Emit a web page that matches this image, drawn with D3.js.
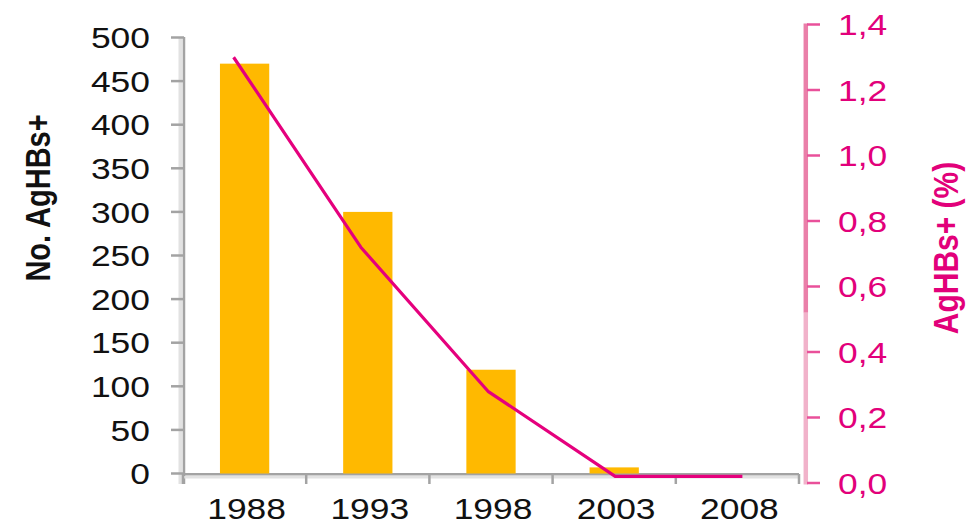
<!DOCTYPE html>
<html><head><meta charset="utf-8">
<script src="https://cdn.jsdelivr.net/npm/d3@7"></script>
<style>html,body{margin:0;padding:0;background:#fff;overflow:hidden}svg{display:block}</style>
</head><body><svg id="c" width="977" height="524"></svg>
<script>
// ---- data ----
const years = ["1988", "1993", "1998", "2003", "2008"];
const cases = [470, 300, 119, 7, 0];              // No. AgHBs+ (bars, left axis)
const prevalence = [1.30, 0.72, 0.28, 0.02, 0.02]; // AgHBs+ (%) (line, right axis)
const leftTicks = [0, 50, 100, 150, 200, 250, 300, 350, 400, 450, 500];
const rightTicks = [0, 0.2, 0.4, 0.6, 0.8, 1.0, 1.2, 1.4];
const leftTitle = "No. AgHBs+";
const rightTitle = "AgHBs+ (%)";

// ---- layout (px) ----
const S = 1.18;               // horizontal stretch of the original picture
const fx = px => px / S;
const FONT = "Arial, 'Liberation Sans', sans-serif";
const barColor = "#FFB900", lineColor = "#E5007D", pink = "#E2007A";

const svg = d3.select("#c");
const g = svg.append("g").attr("transform", `scale(${S},1)`);

const xc = d3.scaleBand().domain(years).range([fx(183), fx(799)]);
const xb = d3.scaleBand().domain(years).range([fx(183), fx(799)]).paddingInner(0.6).paddingOuter(0.3);
const xl = d3.scalePoint().domain(years).range([fx(170), fx(806)]).padding(0.5);
const yL = d3.scaleLinear().domain([0, 500]).range([473.5, 37.5]);
const yR = d3.scaleLinear().domain([0, 1.4]).range([483, 24.5]);

function ln(sel, x1, y1, x2, y2, color, w) {
  return sel.append("line").attr("x1", x1).attr("y1", y1).attr("x2", x2).attr("y2", y2)
    .attr("stroke", color).attr("stroke-width", w).attr("vector-effect", "non-scaling-stroke");
}

// ---- left axis ----
const la = g.append("g");
ln(la, fx(180.5), yL(500) - 0.5, fx(180.5), 484, "#E2E2E2", 4);
ln(la, fx(184), yL(500) - 0.5, fx(184), 484, "#A3A3A3", 2.5);
leftTicks.forEach(v => {
  ln(la, fx(171), yL(v), fx(184), yL(v), "#A3A3A3", 2.5);
  la.append("text").attr("x", fx(150)).attr("y", yL(v)).attr("dy", "0.36em")
    .attr("text-anchor", "end").attr("font-family", FONT).attr("font-size", 30)
    .attr("fill", "#111").text(d3.format("d")(v));
});
la.append("text").attr("transform", `translate(${fx(38)},198) rotate(-90)`)
  .attr("dy", "0.36em").attr("text-anchor", "middle").attr("font-family", FONT)
  .attr("font-weight", "bold").attr("font-size", 29).attr("fill", "#111").text(leftTitle);

// ---- bottom axis ----
const ba = g.append("g");
ln(ba, fx(183), 477.3, fx(799), 477.3, "#E2E2E2", 2.5);
ln(ba, fx(183), 474.3, fx(799), 474.3, "#A3A3A3", 2.5);
const bounds = years.map(d => xc(d)).concat([xc(years[years.length - 1]) + xc.bandwidth()]);
bounds.forEach(b => ln(ba, b, 474, b, 484, "#A3A3A3", 2.5));
years.forEach(d => {
  ba.append("text").attr("x", xc(d) + xc.bandwidth() / 2 + fx(2)).attr("y", 519)
    .attr("text-anchor", "middle").attr("font-family", FONT).attr("font-size", 30)
    .attr("fill", "#111").text(d);
});

// ---- bars ----
g.append("g").selectAll("rect").data(cases).join("rect")
  .attr("x", (d, i) => xb(years[i])).attr("width", xb.bandwidth())
  .attr("y", d => yL(d)).attr("height", d => yL(0) - yL(d))
  .attr("fill", barColor);

// ---- right axis ----
const ra = g.append("g");
ln(ra, fx(805.8), yR(1.4) - 1, fx(805.8), yR(0.52), "#EA7FA9", 4.5);
ln(ra, fx(805.8), yR(0.52), fx(805.8), 484.5, "#F1B2CA", 4.5);
rightTicks.forEach(v => {
  ln(ra, fx(807), yR(v), fx(820), yR(v), "#E9509A", 2.5);
  ra.append("text").attr("x", fx(838)).attr("y", yR(v)).attr("dy", "0.36em")
    .attr("text-anchor", "start").attr("font-family", FONT).attr("font-size", 30)
    .attr("fill", pink).text(d3.format(".1f")(v).replace(".", ","));
});
ra.append("text").attr("transform", `translate(${fx(945)},248) rotate(-90)`)
  .attr("dy", "0.36em").attr("text-anchor", "middle").attr("font-family", FONT)
  .attr("font-weight", "bold").attr("font-size", 30).attr("fill", pink).text(rightTitle);

// ---- line ----
const line = d3.line().x((d, i) => xl(years[i])).y(d => yR(d));
g.append("path").datum(prevalence).attr("d", line)
  .attr("fill", "none").attr("stroke", lineColor).attr("stroke-width", 3.2)
  .attr("stroke-linejoin", "round").attr("vector-effect", "non-scaling-stroke");
</script></body></html>
